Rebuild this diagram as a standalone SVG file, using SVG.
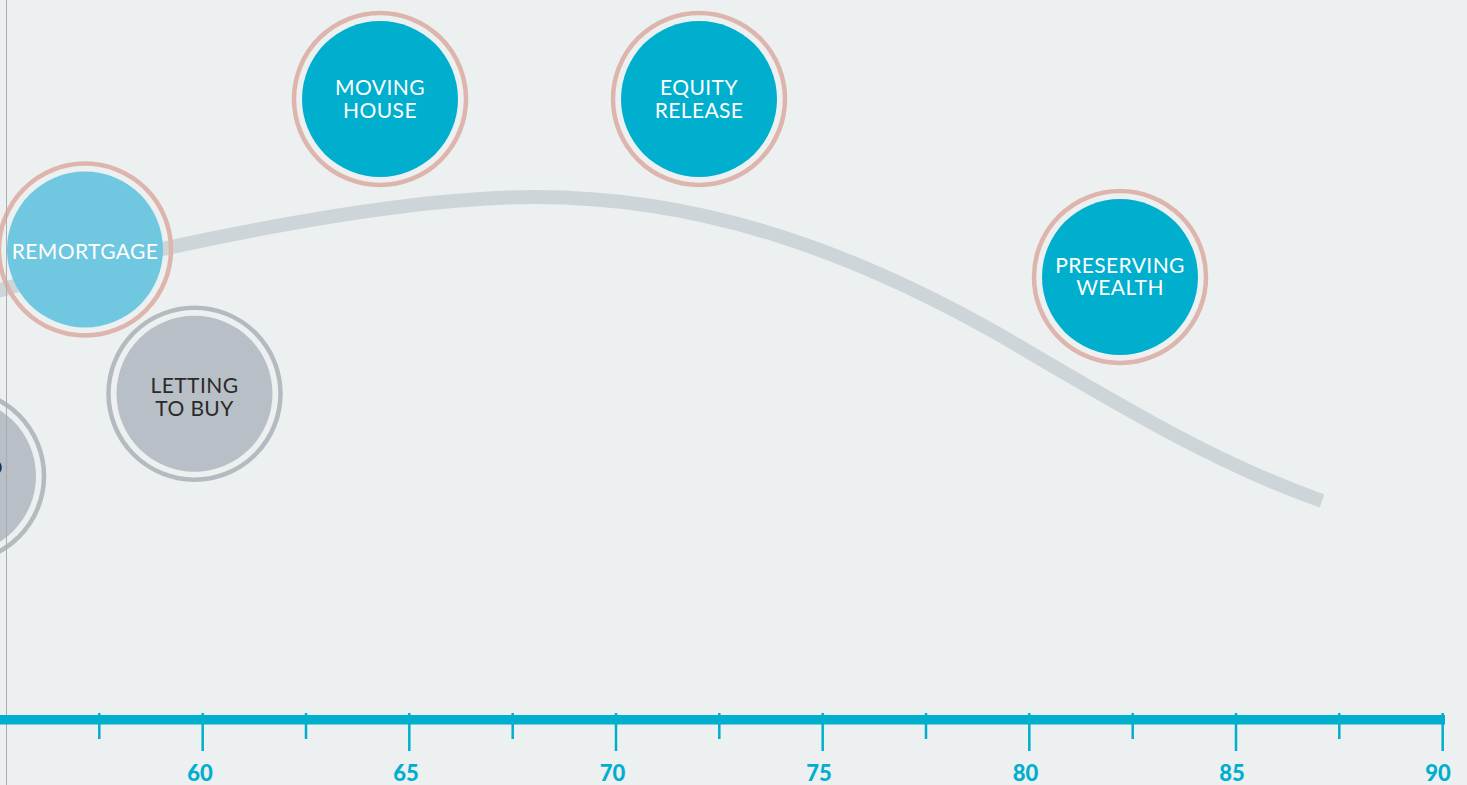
<svg xmlns="http://www.w3.org/2000/svg" width="1467" height="785" viewBox="0 0 1467 785">
<style>
.ring-rose{fill:none;stroke:#DEB5AC;stroke-width:4.5}
.ring-grey{fill:none;stroke:#B4BAC0;stroke-width:4.5}
.fill-dark{fill:#00AECE}
.fill-light{fill:#6FC8E0}
.fill-grey{fill:#B9BFC7}
.lbl{font-family:Lato,"Liberation Sans",sans-serif;font-size:21px;font-weight:400;letter-spacing:0.4px;text-anchor:middle}
.w{fill:#FFFFFF}
.d{fill:#2A2A2A}
.tick{stroke:#00AECE;stroke-width:2.5}
.num{font-family:Lato,"Liberation Sans",sans-serif;font-size:22px;font-weight:900;fill:#00AECE;text-anchor:middle}
</style>
<rect x="0" y="0" width="1467" height="785" fill="#ECF0F1"/>
<g id="connectors">
<path d="M -10 293 C 130 252, 380 197, 535 197 C 700 197, 850 250, 1000 335 C 1130 412, 1220 465, 1322 501" fill="none" stroke="#CED5D9" stroke-width="14"/>
</g>
<g id="node-partial">
<circle cx="-42" cy="476" r="86" class="ring-grey"/>
<circle cx="-42" cy="476" r="78" class="fill-grey"/>
<text x="3" y="475" class="lbl d" style="text-anchor:end">O</text>
</g>
<g id="node-remortgage">
<circle cx="85" cy="249.5" r="86" class="ring-rose"/>
<circle cx="85" cy="249.5" r="78" class="fill-light"/>
<text x="85" y="259" class="lbl w">REMORTGAGE</text>
</g>
<g id="node-letting">
<circle cx="194.5" cy="393.7" r="86" class="ring-grey"/>
<circle cx="194.5" cy="393.7" r="78" class="fill-grey"/>
<text x="194.5" y="392.7" class="lbl d">LETTING</text>
<text x="194.5" y="415.7" class="lbl d">TO BUY</text>
</g>
<g id="node-moving">
<circle cx="380" cy="99" r="86" class="ring-rose"/>
<circle cx="380" cy="99" r="78" class="fill-dark"/>
<text x="380" y="94.5" class="lbl w">MOVING</text>
<text x="380" y="117.5" class="lbl w">HOUSE</text>
</g>
<g id="node-equity">
<circle cx="699" cy="99" r="86" class="ring-rose"/>
<circle cx="699" cy="99" r="78" class="fill-dark"/>
<text x="699" y="94.5" class="lbl w">EQUITY</text>
<text x="699" y="117.5" class="lbl w">RELEASE</text>
</g>
<g id="node-preserving">
<circle cx="1120" cy="277" r="86" class="ring-rose"/>
<circle cx="1120" cy="277" r="78" class="fill-dark"/>
<text x="1120" y="272.7" class="lbl w">PRESERVING</text>
<text x="1120" y="295" class="lbl w">WEALTH</text>
</g>
<line x1="6.5" y1="0" x2="6.5" y2="785" stroke="#A9ADB0" stroke-width="1"/>
<g id="axis">
<rect x="0" y="715" width="1445" height="9.5" fill="#00AECE"/>
<line class="tick" x1="99.3" y1="713" x2="99.3" y2="739"/>
<line class="tick" x1="202.7" y1="713" x2="202.7" y2="751"/>
<line class="tick" x1="306" y1="713" x2="306" y2="739"/>
<line class="tick" x1="409.3" y1="713" x2="409.3" y2="751"/>
<line class="tick" x1="512.7" y1="713" x2="512.7" y2="739"/>
<line class="tick" x1="616" y1="713" x2="616" y2="751"/>
<line class="tick" x1="719.3" y1="713" x2="719.3" y2="739"/>
<line class="tick" x1="822.7" y1="713" x2="822.7" y2="751"/>
<line class="tick" x1="926" y1="713" x2="926" y2="739"/>
<line class="tick" x1="1029.3" y1="713" x2="1029.3" y2="751"/>
<line class="tick" x1="1132.7" y1="713" x2="1132.7" y2="739"/>
<line class="tick" x1="1236" y1="713" x2="1236" y2="751"/>
<line class="tick" x1="1339.3" y1="713" x2="1339.3" y2="739"/>
<line class="tick" x1="1442.7" y1="713" x2="1442.7" y2="751"/>
<text class="num" x="200" y="781">60</text>
<text class="num" x="406" y="781">65</text>
<text class="num" x="612.5" y="781">70</text>
<text class="num" x="819" y="781">75</text>
<text class="num" x="1025.5" y="781">80</text>
<text class="num" x="1232" y="781">85</text>
<text class="num" x="1438" y="781">90</text>
</g>
</svg>
